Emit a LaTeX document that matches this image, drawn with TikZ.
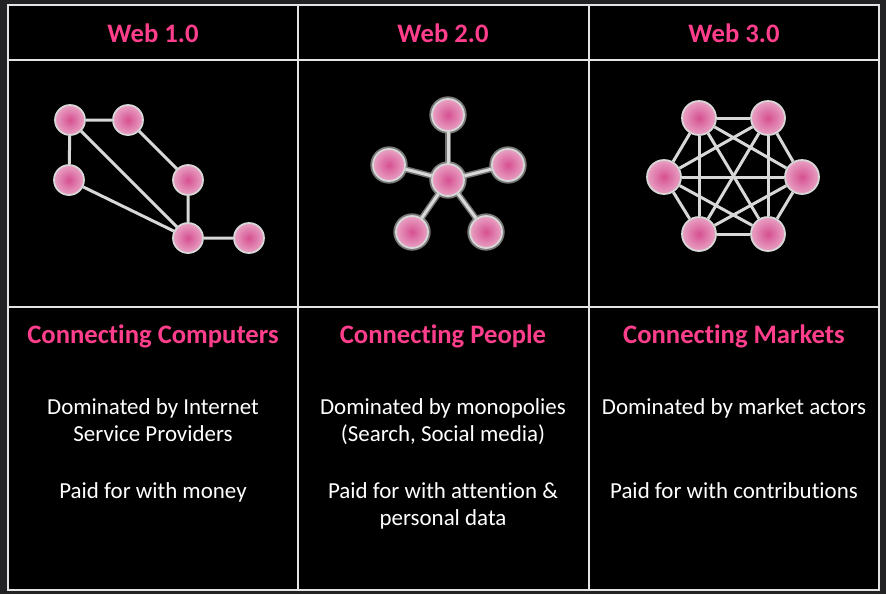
\documentclass[tikz,border=0pt]{standalone}
\usepackage{fontspec}
\setmainfont{Carlito}[Ligatures=NoCommon]
\definecolor{webpink}{RGB}{255,62,140}
\definecolor{dotcore}{RGB}{214,80,145}
\definecolor{dotrim}{RGB}{232,162,196}
\definecolor{linkgray}{RGB}{216,216,216}
\definecolor{glowgray}{RGB}{150,150,150}
\definecolor{gridgray}{RGB}{228,228,228}
\definecolor{pagegray}{RGB}{34,34,36}

\tikzset{
  netdot/.style={circle, inner sep=0pt, minimum size=22.5pt, draw=linkgray, line width=1.3pt,
    inner color=dotcore, outer color=dotrim},
  bigdot/.style={netdot, minimum size=25.5pt},
  glowdot/.style={netdot, minimum size=24pt, preaction={draw=glowgray, line width=4pt, draw opacity=.8}},
  link/.style={draw=linkgray, line width=2.25pt},
  glowlink/.style={link, preaction={draw=glowgray, line width=4.5pt, draw opacity=.75}},
  headtext/.style={anchor=base, text=webpink, font=\bfseries\fontsize{20}{24}\selectfont, inner sep=0pt},
  bodytext/.style={anchor=base, text=white, font=\fontsize{17.2}{20}\selectfont, inner sep=0pt},
}

\begin{document}
\begin{tikzpicture}[x=0.75pt,y=0.75pt,yscale=-1,xscale=1]
% page and table grid
\fill[pagegray] (0,0) rectangle (886,594);
\fill[black] (8,5) rectangle (879,590);
\draw[gridgray, line width=1.5pt] (8,5) rectangle (879,590);
\draw[gridgray, line width=1.5pt] (298,5) -- (298,590) (589,5) -- (589,590);
\draw[gridgray, line width=1.5pt] (8,60) -- (879,60) (8,307) -- (879,307);

% headers
\node[headtext] (h1) at (153,42) {Web 1.0};
\node[headtext] (h2) at (443,42) {Web 2.0};
\node[headtext] (h3) at (734,42) {Web 3.0};

% Web 1.0 network
\node[netdot] (a) at (70,120) {};
\node[netdot] (b) at (128,120) {};
\node[netdot] (c) at (69,180) {};
\node[netdot] (d) at (188,180) {};
\node[netdot] (e) at (188,238) {};
\node[netdot] (f) at (249,238) {};
\draw[link] (a) -- (b) (a) -- (c) (a) -- (e) (b) -- (d) (c) -- (e) (d) -- (e) (e) -- (f);

% Web 2.0 network
\node[glowdot] (hub) at (448,180) {};
\node[glowdot] (s1) at (448,115) {};
\node[glowdot] (s2) at (508,165) {};
\node[glowdot] (s3) at (486,232) {};
\node[glowdot] (s4) at (412,232) {};
\node[glowdot] (s5) at (389,165) {};
\foreach \s in {s1,s2,s3,s4,s5}
  \draw[glowlink] (hub) -- (\s);

% Web 3.0 network
\node[bigdot] (m1) at (699,118) {};
\node[bigdot] (m2) at (768,118) {};
\node[bigdot] (m3) at (802,177) {};
\node[bigdot] (m4) at (768,234) {};
\node[bigdot] (m5) at (699,234) {};
\node[bigdot] (m6) at (664,177) {};
\foreach \i/\j in {m1/m2,m1/m3,m1/m4,m1/m5,m1/m6,m2/m3,m2/m4,m2/m5,m2/m6,m3/m4,m3/m5,m3/m6,m4/m5,m4/m6,m5/m6}
  \draw[link] (\i) -- (\j);

% lower titles
\node[headtext] (t1) at (153,343) {Connecting Computers};
\node[headtext] (t2) at (443,343) {Connecting People};
\node[headtext] (t3) at (734,343) {Connecting Markets};

% body text
\node[bodytext] (p1a) at (153,414) {Dominated by Internet};
\node[bodytext] (p1b) at (153,441) {Service Providers};
\node[bodytext] (p1c) at (153,498) {Paid for with money};
\node[bodytext] (p2a) at (443,414) {Dominated by monopolies};
\node[bodytext] (p2b) at (443,441) {(Search, Social media)};
\node[bodytext] (p2c) at (443,498) {Paid for with attention \&};
\node[bodytext] (p2d) at (443,525) {personal data};
\node[bodytext] (p3a) at (734,414) {Dominated by market actors};
\node[bodytext] (p3c) at (734,498) {Paid for with contributions};
\end{tikzpicture}
\end{document}
